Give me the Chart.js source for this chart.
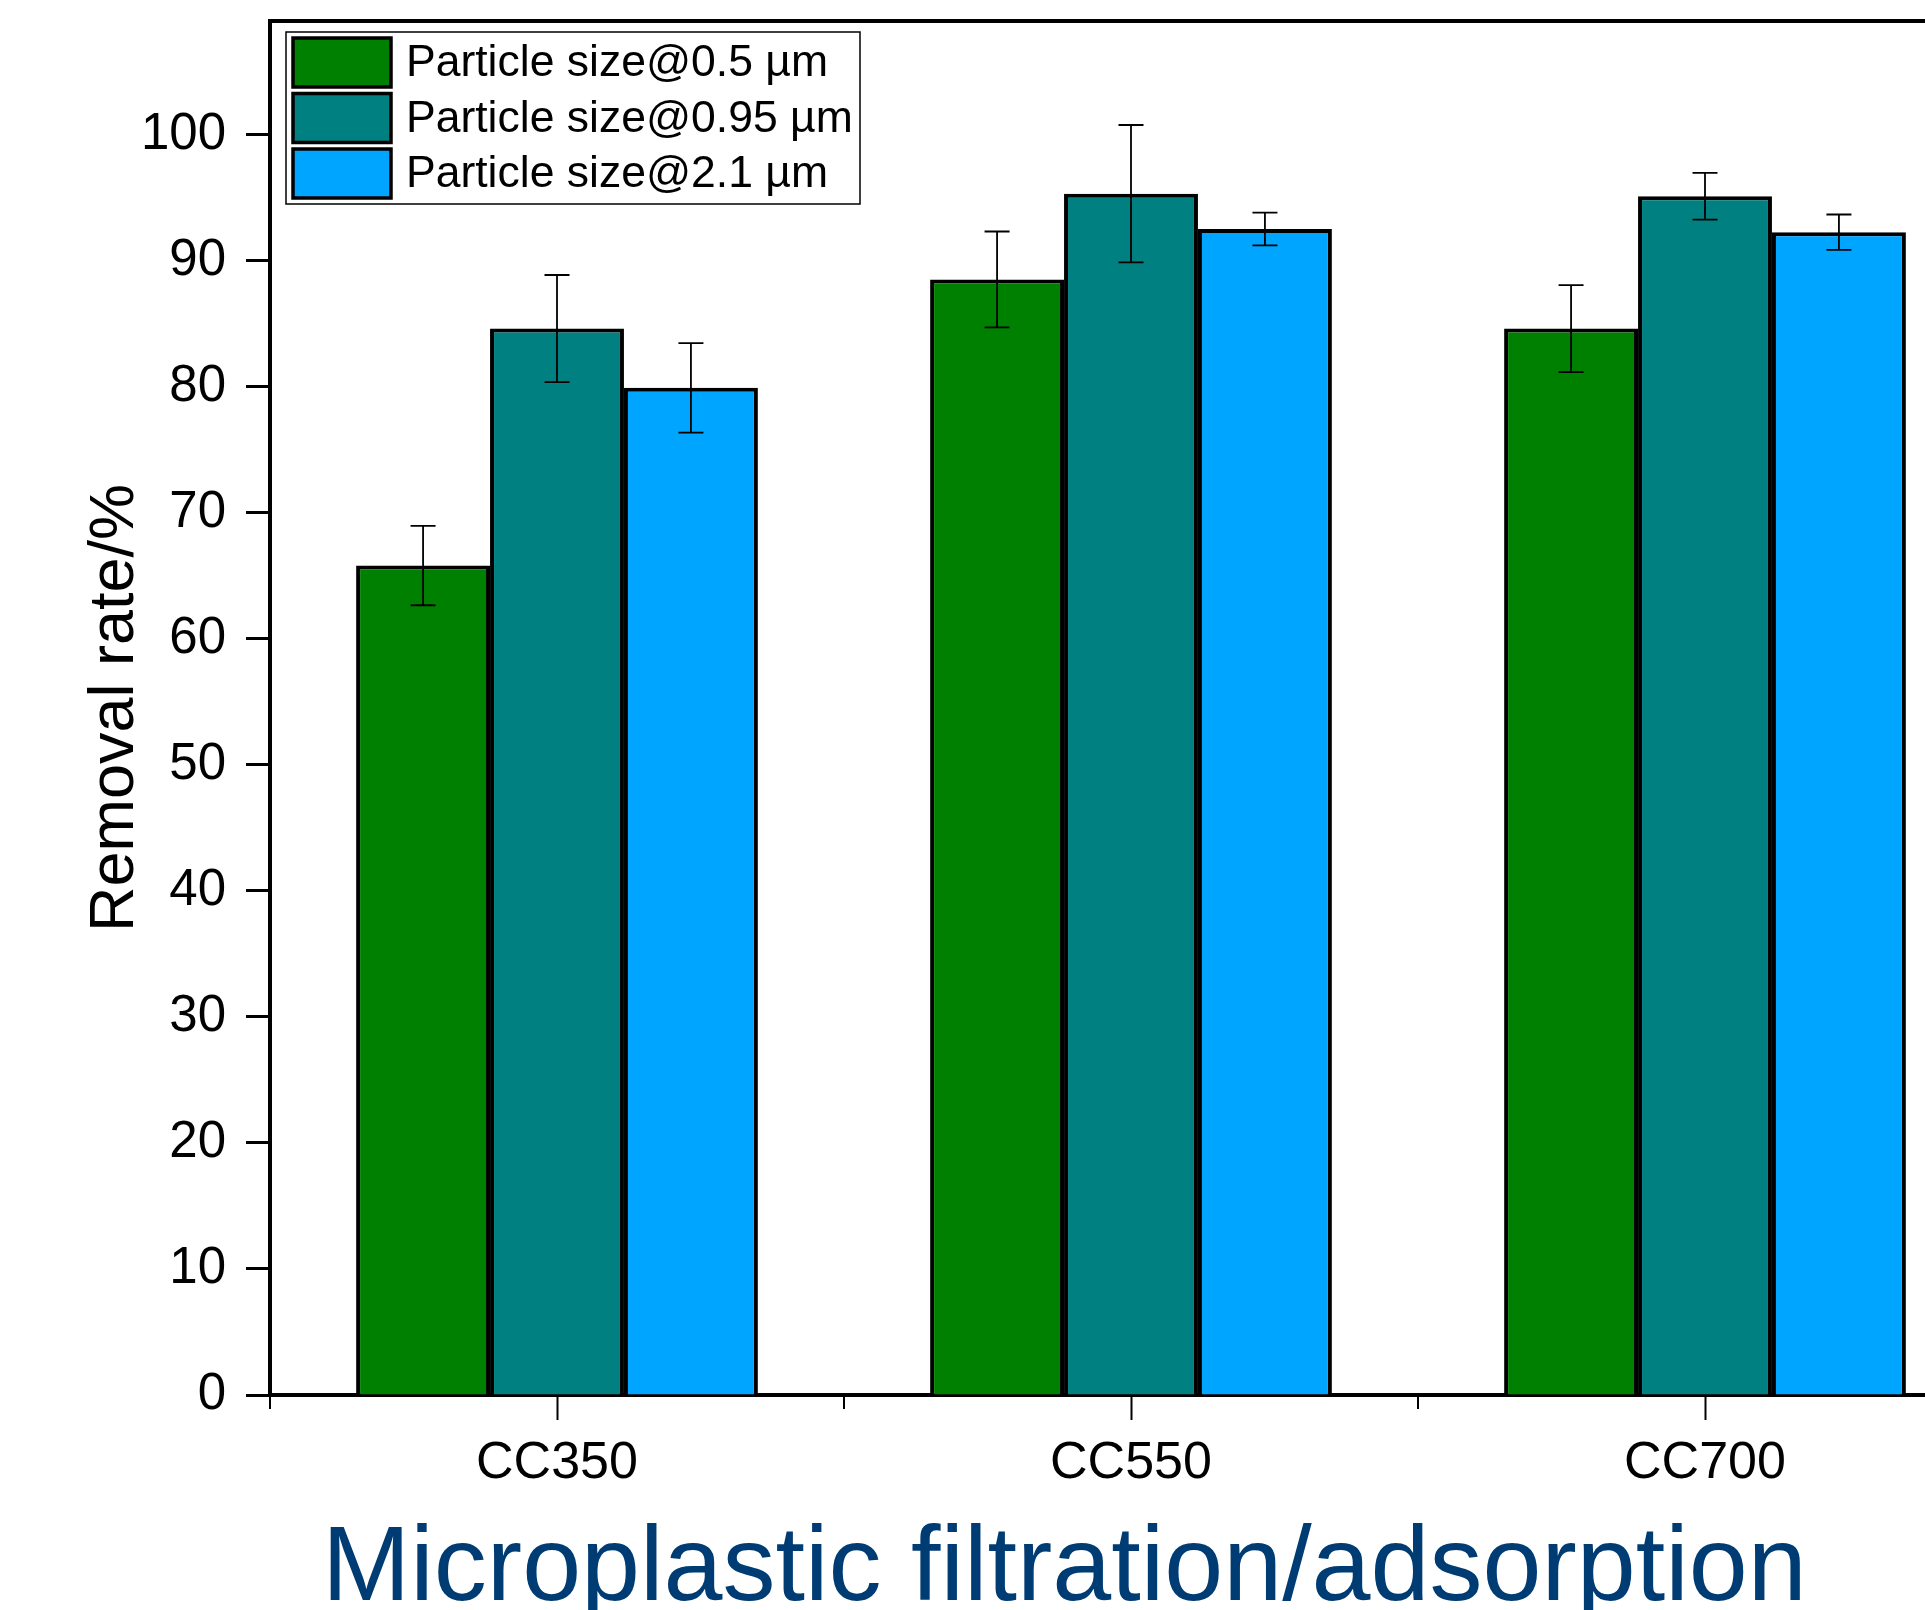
<!DOCTYPE html>
<html>
<head>
<meta charset="utf-8">
<script src="https://cdn.jsdelivr.net/npm/chart.js@4.4.1/dist/chart.umd.min.js"></script>
<style>
  html, body { margin: 0; padding: 0; background: #fff; overflow: hidden; }
  #chart { display: block; }
</style>
</head>
<body>
<canvas id="chart" width="2010" height="1610"></canvas>
<script>
// data
const categories = ['CC350', 'CC550', 'CC700'];
const seriesNames = ['Particle size@0.5 µm', 'Particle size@0.95 µm', 'Particle size@2.1 µm'];
const size05 = [65.8, 88.5, 84.6];
const size05Err = [3.15, 3.8, 3.45];
const size095 = [84.6, 95.3, 95.1];
const size095Err = [4.25, 5.45, 1.85];
const size21 = [79.9, 92.5, 92.25];
const size21Err = [3.55, 1.3, 1.4];
const yTicks = [0, 10, 20, 30, 40, 50, 60, 70, 80, 90, 100];

const FONT = 'Arial, "Liberation Sans", sans-serif';
Chart.defaults.font.family = FONT;
Chart.defaults.color = '#000';

// error bars on top of each bar
const errorBars = {
    id: 'errorBars',
    afterDatasetsDraw(chart) {
        const ctx = chart.ctx;
        const y = chart.scales.y;
        ctx.save();
        ctx.strokeStyle = '#000';
        ctx.lineWidth = 1.8;
        chart.data.datasets.forEach((ds, di) => {
            const meta = chart.getDatasetMeta(di);
            meta.data.forEach((bar, i) => {
                const v = ds.data[i], e = ds.errors[i];
                const top = y.getPixelForValue(v + e);
                const bot = y.getPixelForValue(v - e);
                const cap = 12.5;
                ctx.beginPath();
                ctx.moveTo(bar.x, top); ctx.lineTo(bar.x, bot);
                ctx.moveTo(bar.x - cap, top); ctx.lineTo(bar.x + cap, top);
                ctx.moveTo(bar.x - cap, bot); ctx.lineTo(bar.x + cap, bot);
                ctx.stroke();
            });
        });
        ctx.restore();
    }
};

// top frame line, minor x ticks, legend box, x title
const decorations = {
    id: 'decorations',
    afterDraw(chart) {
        const ctx = chart.ctx;
        const area = chart.chartArea;
        const x = chart.scales.x;
        ctx.save();
        ctx.strokeStyle = '#000';

        ctx.lineWidth = 4;
        ctx.beginPath();
        ctx.moveTo(area.left - 2, area.top);
        ctx.lineTo(area.right, area.top);
        ctx.stroke();

        ctx.lineWidth = 2;
        for (let i = 0; i <= categories.length; i++) {
            const px = x.getPixelForValue(i - 0.5);
            ctx.beginPath();
            ctx.moveTo(px, area.bottom);
            ctx.lineTo(px, area.bottom + 14);
            ctx.stroke();
        }

        // legend
        ctx.lineWidth = 1.5;
        ctx.strokeRect(286, 32, 574, 172);
        ctx.font = '44.5px ' + FONT;
        ctx.textBaseline = 'middle';
        chart.data.datasets.forEach((ds, i) => {
            const top = 38 + i * 55.5;
            ctx.fillStyle = ds.backgroundColor;
            ctx.fillRect(293, top, 98, 49);
            ctx.lineWidth = 3.5;
            ctx.strokeRect(293, top, 98, 49);
            ctx.fillStyle = '#000';
            ctx.fillText(ds.label, 406, top + 26);
        });

        // x axis title
        ctx.font = '106px ' + FONT;
        ctx.fillStyle = '#003C74';
        ctx.textBaseline = 'alphabetic';
        ctx.textAlign = 'left';
        ctx.fillText('Microplastic filtration/adsorption', 322, 1600);
        ctx.restore();
    }
};

new Chart(document.getElementById('chart'), {
    type: 'bar',
    data: {
        labels: categories,
        datasets: [
            { label: seriesNames[0], data: size05, errors: size05Err, backgroundColor: '#008000' },
            { label: seriesNames[1], data: size095, errors: size095Err, backgroundColor: '#008080' },
            { label: seriesNames[2], data: size21, errors: size21Err, backgroundColor: '#00A5FF' }
        ].map(d => Object.assign(d, {
            borderColor: '#000',
            borderWidth: 4,
            categoryPercentage: 0.7,
            barPercentage: 1.0
        }))
    },
    options: {
        responsive: false,
        animation: false,
        layout: { padding: { top: 21, right: 18, left: 0, bottom: 0 } },
        plugins: { legend: { display: false }, tooltip: { enabled: false } },
        scales: {
            x: {
                afterFit(scale) {
                    scale.height = 215;
                    scale.paddingLeft = 0; scale.paddingRight = 0;
                },
                grid: {
                    display: true, drawOnChartArea: false, drawTicks: true,
                    tickLength: 25, tickWidth: 2, tickColor: '#000', offset: false
                },
                border: { display: true, width: 4, color: '#000' },
                ticks: { font: { size: 52 }, padding: 12, color: '#000' }
            },
            y: {
                min: 0,
                max: 109,
                afterFit(scale) {
                    scale.width = 270;
                    scale.paddingTop = 0; scale.paddingBottom = 0;
                },
                afterBuildTicks(scale) { scale.ticks = yTicks.map(v => ({ value: v })); },
                grid: {
                    display: true, drawOnChartArea: false, drawTicks: true,
                    tickLength: 24, tickWidth: 3, tickColor: '#000'
                },
                border: { display: true, width: 4, color: '#000' },
                ticks: { font: { size: 51 }, padding: 20, color: '#000' },
                title: {
                    display: true,
                    text: 'Removal rate/%',
                    font: { size: 63 },
                    color: '#000',
                    padding: { top: 78, bottom: 0 }
                }
            }
        }
    },
    plugins: [errorBars, decorations]
});
</script>
</body>
</html>
